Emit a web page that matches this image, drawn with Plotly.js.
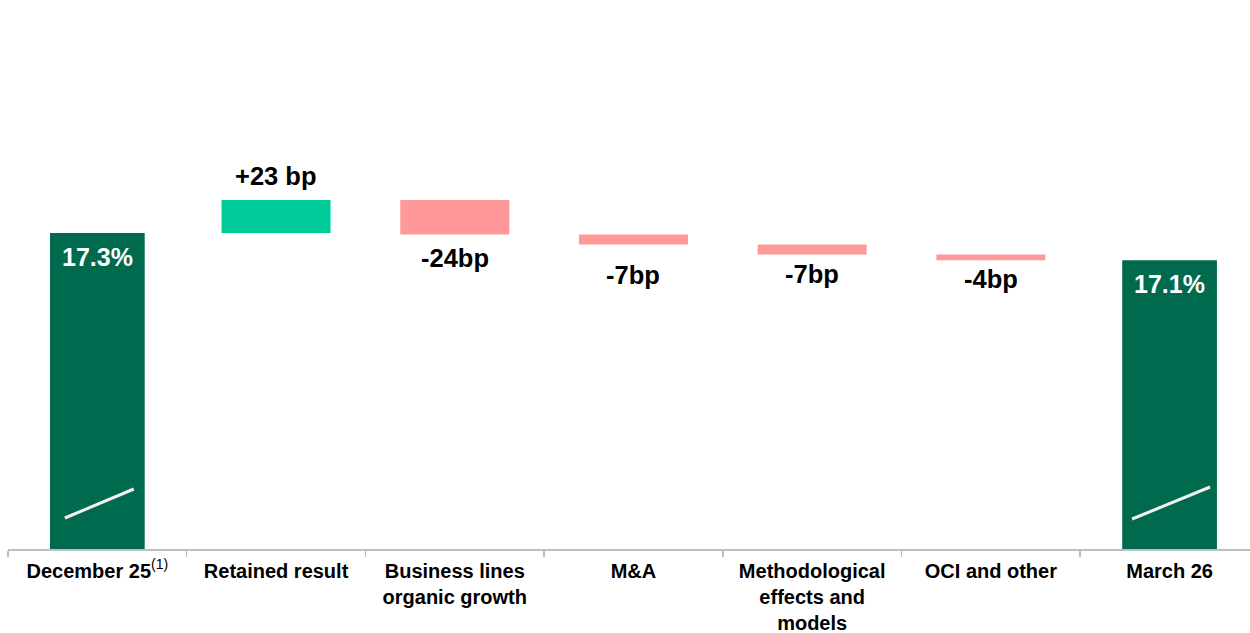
<!DOCTYPE html>
<html>
<head>
<meta charset="utf-8">
<script src="https://cdn.plot.ly/plotly-3.0.1.min.js"></script>
<style>html,body{margin:0;padding:0;background:#fff;}#chart{width:1250px;height:633px;}</style>
</head>
<body>
<div id="chart"></div>
<script>
// ---- data ----
const categories = ['December 25', 'Retained result', 'Business lines organic growth', 'M&A', 'Methodological effects and models', 'OCI and other', 'March 26'];
const tickLabels = ['<b>December 25</b><sup>(1)</sup>', '<b>Retained result</b>', '<b>Business lines<br>organic growth</b>', '<b>M&A</b>', '<b>Methodological<br>effects and<br>models</b>', '<b>OCI and other</b>', '<b>March 26</b>'];
const startValue = 17.30;           // %
const endValue = 17.11;             // %
const deltasBp = [23, -24, -7, -7, -4];
const deltaLabels = ['+23 bp', '-24bp', '-7bp', '-7bp', '-4bp'];
const totalLabels = ['17.3%', '17.1%'];

// ---- styling ----
const darkGreen = '#006A4E', lightGreen = '#00CC99', pink = '#FF9999';
const FONT = 'Liberation Sans, Arial, sans-serif';
const deltaLabelShift = [23.5, -25, -32, -21, -20]; // px from bar end (caps centre)
const totalLabelShift = -25;

// running waterfall
const deltaCats = categories.slice(1, 6);
const bases = [], ys = [], colors = [], anns = [];
let run = startValue;
deltasBp.forEach((d, i) => {
  const v = d / 100;
  bases.push(run); ys.push(v);
  colors.push(d >= 0 ? lightGreen : pink);
  const top = Math.max(run, run + v), bot = Math.min(run, run + v);
  anns.push({x: deltaCats[i], y: d >= 0 ? top : bot, text: '<b>' + deltaLabels[i] + '</b>',
    showarrow: false, yanchor: 'middle', yshift: deltaLabelShift[i] + 1,
    font: {family: FONT, size: 25.5, color: '#000'}});
  run += v;
});
const totalCats = [categories[0], categories[6]];
const totalVals = [startValue, endValue];
totalVals.forEach((v, i) => {
  anns.push({x: totalCats[i], y: v, text: '<b>' + totalLabels[i] + '</b>', showarrow: false,
    yanchor: 'middle', yshift: totalLabelShift + 1, font: {family: FONT, size: 25, color: '#fff'}});
});

// axis break marks inside total bars (pixel-sized, anchored on the bars)
const breakShapes = [
  {idx: 0, x0: -32.5, x1: 36.5, y0: 31, y1: 60},
  {idx: 6, x0: -37.5, x1: 40.5, y0: 30, y1: 62}
].map(b => ({type: 'line', xref: 'x', yref: 'y', xsizemode: 'pixel', ysizemode: 'pixel',
  xanchor: b.idx, yanchor: 15.09, x0: b.x0, x1: b.x1, y0: b.y0, y1: b.y1,
  line: {color: '#F2F2F2', width: 3}}));

const yMin = 15.09, pxPerPct = 143;
const plotH = 549;

const traces = [
  {type: 'bar', x: totalCats, y: totalVals, base: 0, width: 0.53,
   marker: {color: darkGreen, line: {width: 0}}, hoverinfo: 'skip'},
  {type: 'bar', x: deltaCats, y: ys, base: bases, width: 0.61,
   marker: {color: colors, line: {width: 0}}, hoverinfo: 'skip'}
];

const layout = {
  width: 1250, height: 633,
  margin: {l: 8, r: 0, t: 0, b: 633 - plotH},
  paper_bgcolor: '#fff', plot_bgcolor: '#fff',
  showlegend: false, barmode: 'overlay',
  font: {family: FONT, color: '#000'},
  xaxis: {type: 'category', categoryorder: 'array', categoryarray: categories,
    tickvals: categories, ticktext: tickLabels,
    range: [-0.5, 6.45], tickson: 'boundaries', ticks: 'outside', ticklen: 6,
    tickcolor: '#BFBFBF', tickwidth: 1.5, showline: true, linecolor: '#BFBFBF', linewidth: 1.5,
    showgrid: false, zeroline: false, fixedrange: true, ticklabelstandoff: 3,
    tickfont: {family: FONT, size: 20, color: '#000'}},
  yaxis: {range: [yMin, yMin + plotH / pxPerPct], visible: false, showgrid: false, zeroline: false, fixedrange: true},
  annotations: anns,
  shapes: breakShapes
};

Plotly.newPlot('chart', traces, layout, {displayModeBar: false, staticPlot: true});
</script>
</body>
</html>
